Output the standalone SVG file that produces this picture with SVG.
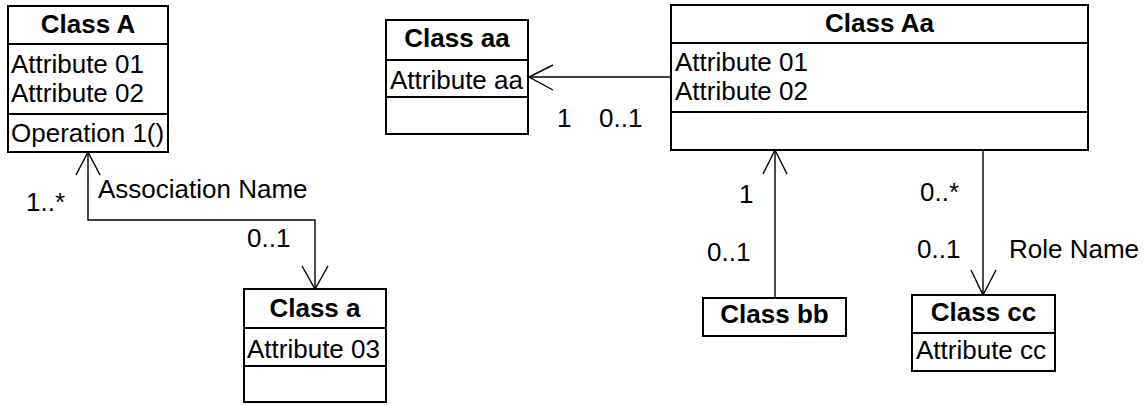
<svg xmlns="http://www.w3.org/2000/svg" width="1144" height="405" viewBox="0 0 1144 405">
<style>
.box{fill:#fff;stroke:#000;stroke-width:2}
.sep{stroke:#000;stroke-width:2}
.t{font-family:"Liberation Sans",Arial,sans-serif;font-size:26px;fill:#000}
.b{font-weight:bold;text-anchor:middle}
.c{fill:none;stroke:#000;stroke-width:1.4}
</style>
<rect width="1144" height="405" fill="#fff"/>
<g id="connectors">
<polyline class="c" points="88,152 88,220 315,220 315,289"/>
<polyline class="c" points="76,175 88,152 100,175"/>
<polyline class="c" points="302,266 315,289 328,266"/>
<line class="c" x1="671" y1="77" x2="529" y2="77"/>
<polyline class="c" points="553,65 529,77 553,90"/>
<line class="c" x1="775" y1="298" x2="775" y2="150"/>
<polyline class="c" points="763,174 775,150 787,174"/>
<line class="c" x1="983" y1="150" x2="983" y2="295"/>
<polyline class="c" points="971,270 983,295 996,270"/>
<text class="t" x="98" y="198">Association Name</text>
<text class="t" x="26" y="211">1..*</text>
<text class="t" x="247" y="247">0..1</text>
<text class="t" x="557" y="127">1</text>
<text class="t" x="599" y="127">0..1</text>
<text class="t" x="739" y="203">1</text>
<text class="t" x="707" y="261">0..1</text>
<text class="t" x="920" y="201">0..*</text>
<text class="t" x="917" y="258">0..1</text>
<text class="t" x="1009" y="258">Role Name</text>
</g>
<g id="classA">
<rect class="box" x="8" y="6" width="160" height="146"/>
<line class="sep" x1="8" y1="44" x2="168" y2="44"/>
<line class="sep" x1="8" y1="114" x2="168" y2="114"/>
<text class="t b" x="88" y="33">Class A</text>
<text class="t" x="11" y="73">Attribute 01</text>
<text class="t" x="11" y="102">Attribute 02</text>
<text class="t" x="11" y="142">Operation 1()</text>
</g>
<g id="classaa">
<rect class="box" x="386" y="20" width="142" height="114"/>
<line class="sep" x1="386" y1="60" x2="528" y2="60"/>
<line class="sep" x1="386" y1="97" x2="528" y2="97"/>
<text class="t b" x="457" y="47">Class aa</text>
<text class="t" x="390" y="89">Attribute aa</text>
</g>
<g id="classAa">
<rect class="box" x="671" y="5" width="417" height="145"/>
<line class="sep" x1="671" y1="43" x2="1088" y2="43"/>
<line class="sep" x1="671" y1="112" x2="1088" y2="112"/>
<text class="t b" x="879.5" y="32">Class Aa</text>
<text class="t" x="675" y="71">Attribute 01</text>
<text class="t" x="675" y="100">Attribute 02</text>
</g>
<g id="classa">
<rect class="box" x="244" y="289" width="142" height="113"/>
<line class="sep" x1="244" y1="328" x2="386" y2="328"/>
<line class="sep" x1="244" y1="366" x2="386" y2="366"/>
<text class="t b" x="315" y="317">Class a</text>
<text class="t" x="247" y="358">Attribute 03</text>
</g>
<g id="classbb">
<rect class="box" x="703" y="298" width="143" height="38"/>
<text class="t b" x="774.5" y="323">Class bb</text>
</g>
<g id="classcc">
<rect class="box" x="912" y="295" width="143" height="76"/>
<line class="sep" x1="912" y1="333" x2="1055" y2="333"/>
<text class="t b" x="983.5" y="321">Class cc</text>
<text class="t" x="916" y="359">Attribute cc</text>
</g>
</svg>
